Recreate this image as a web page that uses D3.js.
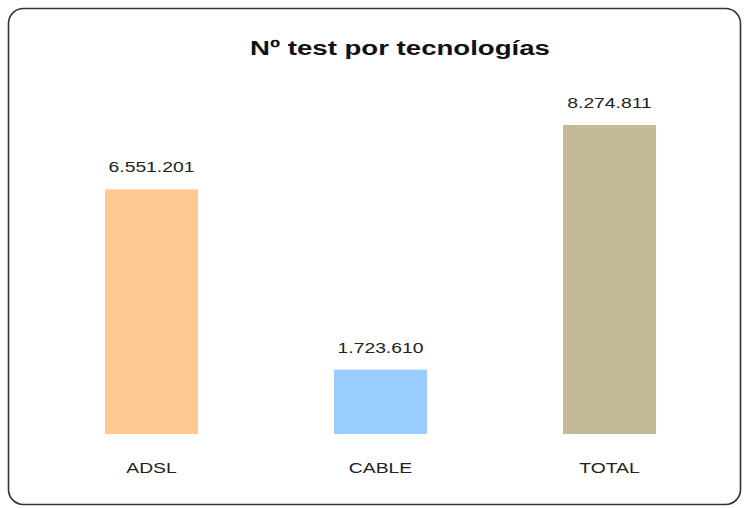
<!DOCTYPE html>
<html>
<head>
<meta charset="utf-8">
<script src="https://cdn.jsdelivr.net/npm/d3@7"></script>
<style>
  html, body { margin: 0; padding: 0; background: #fff; }
  text { font-family: "Liberation Sans", Arial, sans-serif; }
</style>
</head>
<body>
<div class="canvas"></div>
<script>
const categories = ['ADSL', 'CABLE', 'TOTAL'];
const values = [6551201, 1723610, 8274811];
const barColors = ['#ffc996', '#99ccff', '#c4bb96'];
const chartTitle = 'Nº test por tecnologías';

const dimension = { width: 746, height: 508 };
const stretch = 1.38;

const fmt = v => d3.format(',')(v).replace(/,/g, '.');

// svg container
const svg = d3
  .select('.canvas')
  .append('svg')
  .attr('width', dimension.width)
  .attr('height', dimension.height);

// rounded frame
svg
  .append('rect')
  .attr('x', 8.5)
  .attr('y', 8.5)
  .attr('width', 732)
  .attr('height', 496)
  .attr('rx', 15)
  .attr('fill', '#fff')
  .attr('stroke', '#333')
  .attr('stroke-width', 1.6);

// title
svg
  .append('text')
  .attr('transform', `translate(400, 55) scale(${stretch}, 1)`)
  .attr('text-anchor', 'middle')
  .attr('font-size', 20)
  .attr('font-weight', 'bold')
  .attr('fill', '#111')
  .text(chartTitle);

// scales
const x = d3
  .scaleBand()
  .domain(categories)
  .range([36.3, 724.7])
  .paddingInner(0.594)
  .paddingOuter(0.3);

const y = d3
  .scaleLinear()
  .domain([0, d3.max(values)])
  .range([434, 125]);

const data = categories.map((c, i) => ({ name: c, value: values[i], color: barColors[i] }));

const graph = svg.append('g');

graph
  .selectAll('rect.bar')
  .data(data)
  .enter()
  .append('rect')
  .attr('class', 'bar')
  .attr('x', d => x(d.name))
  .attr('y', d => y(d.value))
  .attr('width', x.bandwidth())
  .attr('height', d => y(0) - y(d.value))
  .attr('fill', d => d.color);

// value labels
graph
  .selectAll('text.value')
  .data(data)
  .enter()
  .append('text')
  .attr('class', 'value')
  .attr('transform', d => `translate(${x(d.name) + x.bandwidth() / 2}, ${y(d.value) - 17}) scale(${stretch}, 1)`)
  .attr('text-anchor', 'middle')
  .attr('font-size', 14)
  .attr('fill', '#222')
  .text(d => fmt(d.value));

// category labels
graph
  .selectAll('text.cat')
  .data(data)
  .enter()
  .append('text')
  .attr('class', 'cat')
  .attr('transform', d => `translate(${x(d.name) + x.bandwidth() / 2}, ${y(0) + 39}) scale(${stretch}, 1)`)
  .attr('text-anchor', 'middle')
  .attr('font-size', 14)
  .attr('fill', '#222')
  .text(d => d.name);
</script>
</body>
</html>
